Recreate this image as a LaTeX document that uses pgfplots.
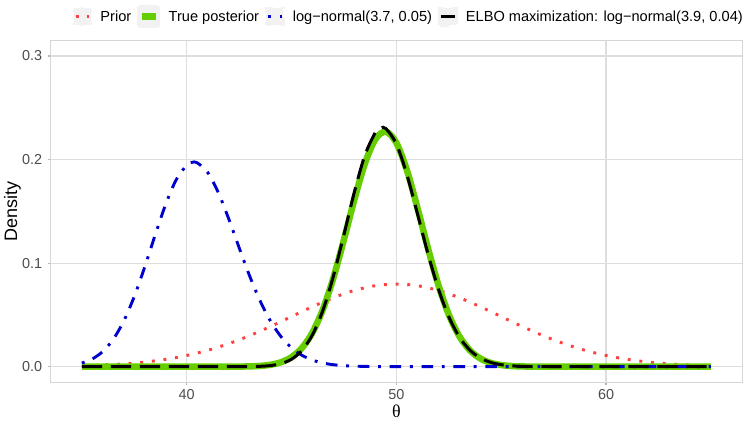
\documentclass[border=0pt]{standalone}
\usepackage{pgfplots}
\pgfplotsset{compat=1.18}
\usepackage{fontspec}
\setmainfont{Liberation Sans}
\newfontfamily\lserif{Liberation Serif}
\definecolor{priorred}{HTML}{FF4040}
\definecolor{postgreen}{HTML}{66CD00}
\definecolor{lnblue}{HTML}{0000CD}
\definecolor{gridc}{HTML}{DEDEDE}
\definecolor{borderc}{HTML}{D6D6D6}
\definecolor{tickc}{HTML}{B3B3B3}
\definecolor{ticklab}{HTML}{4D4D4D}
\definecolor{keybg}{HTML}{F2F2F2}
\begin{document}
\begin{tikzpicture}
\begin{axis}[
  at={(0pt,0pt)}, anchor=south west, scale only axis,
  width=691.9pt, height=341.7pt,
  xmin=33.5, xmax=66.5, ymin=-0.015, ymax=0.315,
  xtick={40,50,60}, ytick={0,0.1,0.2,0.3},
  tick pos=left,
  grid=major, major grid style={draw=gridc, line width=1.1pt},
  axis line style={draw=borderc, line width=1.1pt},
  tick align=outside, major tick length=2.75pt,
  tick style={draw=tickc, line width=1.1pt},
  tick label style={font=\fontsize{14.4}{16}\selectfont, text=ticklab, inner sep=0pt},
  /pgf/number format/assume math mode=true,
  yticklabel style={/pgf/number format/fixed, /pgf/number format/fixed zerofill, /pgf/number format/precision=1, anchor=east, xshift=-5.4pt},
  xticklabel style={anchor=north, yshift=-4.5pt},
  xlabel={{\lserif θ}}, ylabel={Density},
  every axis x label/.style={at={(axis description cs:0.5,-0.0843)}, anchor=center, inner sep=0pt, font=\fontsize{18}{20}\selectfont},
  every axis y label/.style={at={(axis description cs:-0.0548,0.5)}, rotate=90, anchor=center, inner sep=0pt, font=\fontsize{18}{20}\selectfont},
  legend columns=4,
  legend style={draw=none, fill=none, inner sep=0pt, outer sep=0pt,
    at={(axis description cs:0.0322,1.0702)}, anchor=west,
    font=\fontsize{14.6}{17}\selectfont,
    nodes={inner sep=0pt},
    /tikz/every odd column/.append style={column sep=8.3pt},
    /tikz/every even column/.append style={column sep=6pt}},
  legend image code/.code={
    \fill[keybg] (0pt,-8.5pt) rectangle (16.6pt,8.5pt);
    \draw[#1] (1.5pt,0pt) -- (15.1pt,0pt);
  },
]
% Prior: normal(50, 5)
\addplot[smooth, draw=priorred, line width=2.9pt, dash pattern=on 2.9pt off 8.8pt] coordinates {
(35,0.000886) (36,0.001583) (37,0.002717) (38,0.004479) (39,0.007095) (40,0.010798)
(41,0.015790) (42,0.022184) (43,0.029945) (44,0.038837) (45,0.048394) (46,0.057938)
(47,0.066645) (48,0.073654) (49,0.078209) (50,0.079788) (51,0.078209) (52,0.073654)
(53,0.066645) (54,0.057938) (55,0.048394) (56,0.038837) (57,0.029945) (58,0.022184)
(59,0.015790) (60,0.010798) (61,0.007095) (62,0.004479) (63,0.002717) (64,0.001583)
(65,0.000886)};
\addlegendentry{Prior}
% True posterior
\addplot[smooth, draw=postgreen, line width=6.5pt, line join=round] coordinates {
(35,0) (40,0) (42,0.0000284) (42.5,0.0000908) (43,0.00027) (43.5,0.00073) (44,0.00185)
(44.5,0.00429) (45,0.00919) (45.5,0.01814) (46,0.03303) (46.5,0.05546) (47,0.08589)
(47.5,0.12265) (48,0.16152) (48.5,0.19618) (49,0.21973) (49.5,0.22697) (50,0.21620)
(50.5,0.18993) (51,0.15386) (51.5,0.11495) (52,0.07920) (52.5,0.05032) (53,0.02949)
(53.5,0.01594) (54,0.00794) (54.5,0.00365) (55,0.00155) (55.5,0.00060) (56,0.00022)
(56.5,0.0000725) (57,0.0000222) (60,0) (65,0)};
\addlegendentry{True posterior}
% log-normal(3.7, 0.05)
\addplot[smooth, draw=lnblue, line width=2.9pt, dash pattern=on 2.9pt off 8.7pt on 11.6pt off 8.7pt] coordinates {
(35,0.003471) (35.5,0.007469) (36,0.014693) (36.5,0.026529) (37,0.044102) (37.5,0.067716)
(38,0.096341) (38.5,0.12735) (39,0.15687) (39.5,0.18053) (40,0.19460) (40.25,0.19729)
(40.5,0.19694) (41,0.18757) (41.5,0.16848) (42,0.14303) (42.5,0.11499) (43,0.08773)
(43.5,0.06362) (44,0.04394) (44.5,0.02895) (45,0.01822) (45.5,0.01097) (46,0.00633)
(46.5,0.00351) (47,0.00187) (47.5,0.00096) (48,0.00047) (49,0.00010) (50,0.00002)
(52,0) (55,0) (60,0) (65,0)};
\addlegendentry{log−normal(3.7, 0.05)}
% ELBO maximization
\addplot[smooth, draw=black, line width=3pt, dash pattern=on 20.3pt off 8.7pt] coordinates {
(35,0) (40,0) (42,0.0000056) (42.5,0.0000256) (43,0.000101) (43.5,0.000350) (44,0.001076)
(44.5,0.002942) (45,0.007177) (45.5,0.015688) (46,0.030828) (46.5,0.054617) (47,0.087594)
(47.5,0.12747) (48,0.16887) (48.5,0.20426) (49,0.22620) (49.25,0.23048) (49.5,0.22994)
(50,0.21512) (50.5,0.18568) (51,0.14819) (51.5,0.10966) (52,0.07538) (52.5,0.04823)
(53,0.02879) (53.5,0.01607) (54,0.00840) (54.5,0.00412) (55,0.00190) (55.5,0.00082)
(56,0.00034) (56.5,0.00013) (57,0.000048) (58,0.000005) (60,0) (65,0)};
\addlegendentry{ELBO maximization: log−normal(3.9, 0.04)}
\end{axis}
\pgfresetboundingbox
\path[use as bounding box] (-50.4pt,-42.8pt) rectangle (696.6pt,382.2pt);
\end{tikzpicture}
\end{document}
